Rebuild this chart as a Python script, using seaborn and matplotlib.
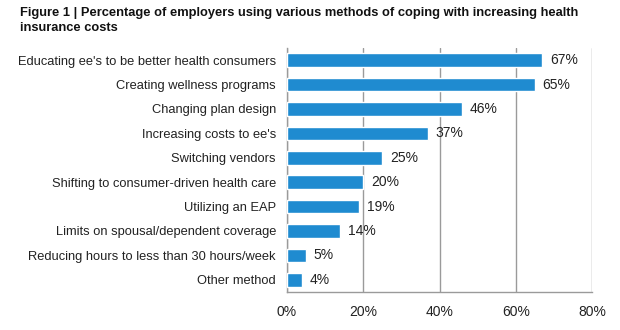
import matplotlib
matplotlib.use("Agg")
import matplotlib.pyplot as plt
import seaborn as sns
import pandas as pd
from matplotlib.ticker import FuncFormatter

categories = [
    "Educating ee's to be better health consumers",
    "Creating wellness programs",
    "Changing plan design",
    "Increasing costs to ee's",
    "Switching vendors",
    "Shifting to consumer-driven health care",
    "Utilizing an EAP",
    "Limits on spousal/dependent coverage",
    "Reducing hours to less than 30 hours/week",
    "Other method",
]
values = [67, 65, 46, 37, 25, 20, 19, 14, 5, 4]
x_ticks = [0, 20, 40, 60, 80]
title = "Figure 1 | Percentage of employers using various methods of coping with increasing health\ninsurance costs"

df = pd.DataFrame({"method": categories, "pct": values})

sns.set_theme(style="white")
plt.rcParams["font.family"] = ["Liberation Sans", "DejaVu Sans"]

fig = plt.figure(figsize=(6.2, 3.3), dpi=100)
ax = fig.add_axes([287/620, 1-292/330, (592-287)/620, (292-48)/330])

sns.barplot(data=df, x="pct", y="method", color="#1F8BD0", saturation=1,
            width=0.56, ax=ax, zorder=3)

ax.set_xlim(0, 80)
ax.set_ylim(9.5, -0.5)
ax.set_xticks(x_ticks)
ax.xaxis.set_major_formatter(FuncFormatter(lambda v, p: f"{int(v)}%"))
ax.grid(axis="x", color="#9a9a9a", linewidth=1, zorder=0)
ax.grid(axis="y", visible=False)
ax.set_xlabel("")
ax.set_ylabel("")
for s in ["top", "right"]:
    ax.spines[s].set_visible(False)
for s in ["left", "bottom"]:
    ax.spines[s].set_color("#9a9a9a")
    ax.spines[s].set_linewidth(1)
ax.tick_params(axis="y", length=0, labelsize=9.3, colors="#222222", pad=8)
ax.tick_params(axis="x", length=0, labelsize=10, colors="#222222", pad=9)

for i, v in enumerate(values):
    ax.text(v + 2.0, i, f"{v}%", va="center", ha="left", fontsize=10, color="#222222", zorder=4)

fig.text(20/620, 1-7/330, title, ha="left", va="top", fontsize=9.25,
         fontweight="bold", color="#111111", linespacing=1.3)

fig.savefig("out.png", dpi=100)
